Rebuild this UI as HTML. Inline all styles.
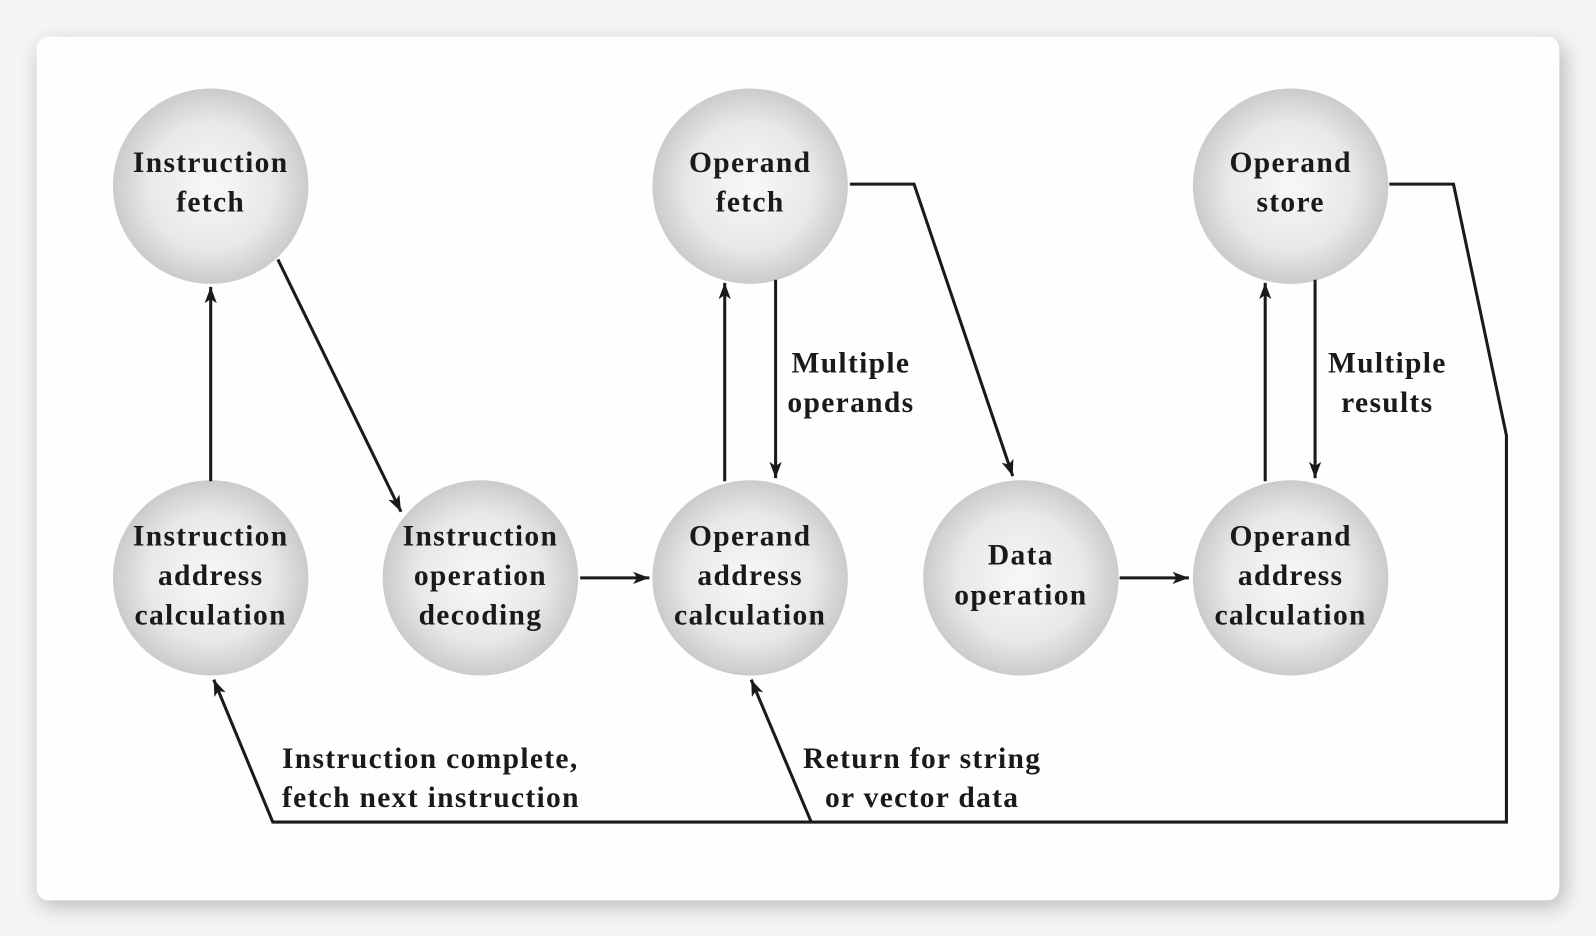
<!DOCTYPE html>
<html><head><style>
html,body{margin:0;padding:0;width:1596px;height:936px;overflow:hidden;background:#f4f4f4;}
svg{display:block}
text{font-family:"Liberation Serif",serif;font-weight:bold;fill:#1a1a1a;font-size:29px;letter-spacing:1.3px;text-anchor:middle;}
</style></head><body>
<svg width="1596" height="936" viewBox="0 0 1568 920" preserveAspectRatio="none" xmlns="http://www.w3.org/2000/svg">
<defs>
<radialGradient id="g" cx="50%" cy="50%" r="50%">
<stop offset="0" stop-color="#f8f8f8"/><stop offset="0.65" stop-color="#e8e8e8"/><stop offset="1" stop-color="#cbcbcb"/>
</radialGradient>
<filter id="sh" x="-5%" y="-5%" width="110%" height="110%"><feGaussianBlur stdDeviation="10"/></filter>
<marker id="a" viewBox="0 0 16 12" refX="16" refY="6" markerWidth="16" markerHeight="12" markerUnits="userSpaceOnUse" orient="auto"><path d="M0,0 L16,6 L0,12 L4,6 z" fill="#1a1a1a"/></marker>
</defs>
<rect x="0" y="0" width="1568" height="920" fill="#f5f5f5"/>
<rect x="38" y="42" width="1500" height="850" rx="14" fill="#bdbdbd" filter="url(#sh)"/>
<rect x="36" y="36" width="1496" height="849" rx="12" fill="#fefefe"/>
<g fill="url(#g)">
<circle cx="207" cy="183" r="96"/><circle cx="737" cy="183" r="96"/><circle cx="1268" cy="183" r="96"/>
<circle cx="207" cy="568" r="96"/><circle cx="472" cy="568" r="96"/><circle cx="737" cy="568" r="96"/><circle cx="1003" cy="568" r="96"/><circle cx="1268" cy="568" r="96"/>
</g>
<g stroke="#1a1a1a" stroke-width="3" fill="none">
<line x1="207" y1="473" x2="207" y2="282" marker-end="url(#a)"/>
<line x1="273" y1="255" x2="394" y2="503" marker-end="url(#a)"/>
<line x1="570" y1="568" x2="638" y2="568" marker-end="url(#a)"/>
<line x1="712" y1="473" x2="712" y2="278" marker-end="url(#a)"/>
<line x1="762" y1="275" x2="762" y2="470" marker-end="url(#a)"/>
<polyline points="835,181 898,181 995,468" marker-end="url(#a)"/>
<line x1="1100" y1="568" x2="1168" y2="568" marker-end="url(#a)"/>
<line x1="1243" y1="473" x2="1243" y2="278" marker-end="url(#a)"/>
<line x1="1292" y1="275" x2="1292" y2="470" marker-end="url(#a)"/>
<polyline points="1365,181 1428,181 1480,428 1480,808 268,808 210,668" marker-end="url(#a)"/>
<line x1="797" y1="808" x2="738" y2="668" marker-end="url(#a)"/>
</g>
<text x="207" y="169">Instruction</text><text x="207" y="208">fetch</text>
<text x="737" y="169">Operand</text><text x="737" y="208">fetch</text>
<text x="1268" y="169">Operand</text><text x="1268" y="208">store</text>
<text x="207" y="536">Instruction</text><text x="207" y="575">address</text><text x="207" y="614">calculation</text>
<text x="472" y="536">Instruction</text><text x="472" y="575">operation</text><text x="472" y="614">decoding</text>
<text x="737" y="536">Operand</text><text x="737" y="575">address</text><text x="737" y="614">calculation</text>
<text x="1003" y="555">Data</text><text x="1003" y="594">operation</text>
<text x="1268" y="536">Operand</text><text x="1268" y="575">address</text><text x="1268" y="614">calculation</text>
<text x="836" y="366">Multiple</text><text x="836" y="405">operands</text>
<text x="1363" y="366">Multiple</text><text x="1363" y="405">results</text>
<text x="277" y="755" style="text-anchor:start">Instruction complete,</text>
<text x="277" y="793" style="text-anchor:start">fetch next instruction</text>
<text x="906" y="755">Return for string</text><text x="906" y="793">or vector data</text>
</svg>
</body></html>
